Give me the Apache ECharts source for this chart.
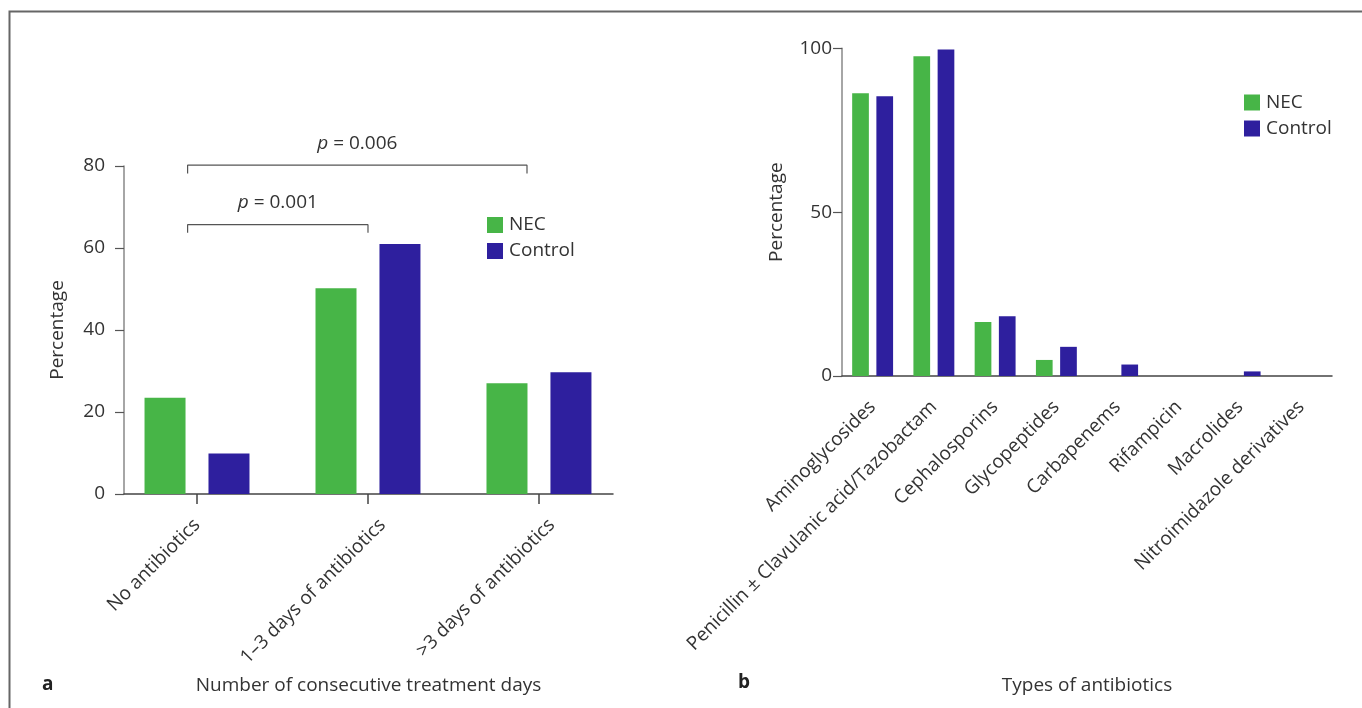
<!DOCTYPE html>
<html>
<head>
<meta charset="utf-8">
<script src="https://cdn.jsdelivr.net/npm/echarts@6/dist/echarts.min.js"></script>
<style>
html,body{margin:0;padding:0;background:#fff;}
#main{width:1362px;height:708px;}
</style>
</head>
<body>
<div id="main"></div>
<script>
// panel a
var dayCats = ['No antibiotics', '1–3 days of antibiotics', '>3 days of antibiotics'];
var necDays = [23.5, 50.2, 27.0];
var ctrlDays = [9.9, 61.0, 29.7];
// where the rotated labels sit (category index)
var dayLabelPos = [0, 1.085, 2.075];
// p-value brackets (x in category index, y in percent)
var pFrom = [-0.055, -0.055];
var pTo = [1.0, 1.93];
var pLevel = [65.7, 80.2];
var pText = ['0.001', '0.006'];

// panel b
var drugCats = ['Aminoglycosides', 'Penicillin ± Clavulanic acid/Tazobactam', 'Cephalosporins', 'Glycopeptides',
	'Carbapenems', 'Rifampicin', 'Macrolides', 'Nitroimidazole derivatives'];
var necDrug = [86.3, 97.6, 16.5, 4.9, 0, 0, 0, 0];
var ctrlDrug = [85.4, 99.6, 18.2, 8.9, 3.5, 0, 1.4, 0];

var GREEN = '#47b547';
var BLUE = '#2e1f9e';
var FONT = 'Open Sans';
var FS = 19;
var TXT = '#333';

var myChart = echarts.init(document.getElementById('main'));

function pairs(arr) {
	var out = [];
	for (var i = 0; i < arr.length; i++) {
		out.push([i, arr[i]]);
	}
	return out;
}

// bracket series built from the arrays above
var bracketSeries = [];
for (var k = 0; k < pFrom.length; k++) {
	var drop = 2;
	var mid = (pFrom[k] + pTo[k]) / 2;
	bracketSeries.push({
		type: 'line',
		xAxisIndex: 0,
		yAxisIndex: 0,
		symbol: 'circle',
		symbolSize: 1,
		showAllSymbol: true,
		clip: false,
		silent: true,
		itemStyle: { color: 'rgba(0,0,0,0)' },
		lineStyle: { color: '#555', width: 1.2 },
		data: [
			[pFrom[k], pLevel[k] - drop],
			[pFrom[k], pLevel[k]],
			{
				value: [mid, pLevel[k]],
				label: {
					show: true,
					position: 'top',
					distance: 12,
					formatter: '{i|p} = ' + pText[k],
					fontFamily: FONT,
					fontSize: FS,
					color: TXT,
					rich: { i: { fontStyle: 'italic', fontFamily: FONT, fontSize: FS, color: TXT } }
				}
			},
			[pTo[k], pLevel[k]],
			[pTo[k], pLevel[k] - drop]
		]
	});
}

var option = {
	animation: false,
	textStyle: { fontFamily: FONT },
	legend: [{
		left: 487, top: 215.5,
		padding: 0,
		orient: 'vertical',
		itemWidth: 16, itemHeight: 16, itemGap: 7,
		icon: 'rect',
		data: ['NEC', 'Control'],
		textStyle: { fontFamily: FONT, fontSize: FS, color: TXT, padding: [0, 0, 0, 1] }
	}, {
		left: 1244, top: 93,
		padding: 0,
		orient: 'vertical',
		itemWidth: 16, itemHeight: 16, itemGap: 7,
		icon: 'rect',
		data: ['NEC', 'Control'],
		textStyle: { fontFamily: FONT, fontSize: FS, color: TXT, padding: [0, 0, 0, 1] }
	}],
	grid: [
		{ left: 124, top: 166, width: 489, height: 328 },
		{ left: 842, top: 48.3, width: 490, height: 327.7 }
	],
	xAxis: [{
		gridIndex: 0,
		type: 'value',
		min: -0.427,
		max: 2.433,
		splitLine: { show: false },
		axisLine: { lineStyle: { color: '#444', width: 1.5 } },
		axisTick: { show: true, length: 10, customValues: [0, 1, 2], lineStyle: { color: '#444', width: 1.5 } },
		axisLabel: {
			customValues: dayLabelPos,
			rotate: 45,
			margin: 28,
			fontFamily: FONT, fontSize: FS, color: TXT,
			formatter: function (v) { return dayCats[Math.round(v)]; }
		},
		name: 'Number of consecutive treatment days',
		nameLocation: 'middle',
		nameGap: 182,
		nameTextStyle: { fontFamily: FONT, fontSize: FS, color: TXT }
	}, {
		gridIndex: 1,
		type: 'category',
		data: drugCats,
		axisLine: { lineStyle: { color: '#444', width: 1.5 } },
		axisTick: { length: 9, lineStyle: { color: '#444', width: 1.5 } },
		axisLabel: {
			interval: 0,
			rotate: 45,
			margin: 28,
			fontFamily: FONT, fontSize: FS, color: TXT
		},
		name: 'Types of antibiotics',
		nameLocation: 'middle',
		nameGap: 300,
		nameTextStyle: { fontFamily: FONT, fontSize: FS, color: TXT }
	}],
	yAxis: [{
		gridIndex: 0,
		type: 'value',
		min: 0, max: 80, interval: 20,
		splitLine: { show: false },
		axisLine: { show: true, onZero: false, lineStyle: { color: '#888', width: 1.5 } },
		axisTick: { show: true, length: 9, lineStyle: { color: '#555', width: 1.2 } },
		axisLabel: { margin: 19, fontFamily: FONT, fontSize: FS, color: TXT },
		name: 'Percentage',
		nameLocation: 'middle',
		nameGap: 57,
		nameTextStyle: { fontFamily: FONT, fontSize: FS, color: TXT }
	}, {
		gridIndex: 1,
		type: 'value',
		min: 0, max: 100, interval: 50,
		splitLine: { show: false },
		axisLine: { show: true, onZero: false, lineStyle: { color: '#888', width: 1.5 } },
		axisTick: { show: true, length: 9, lineStyle: { color: '#555', width: 1.2 } },
		axisLabel: { margin: 10, fontFamily: FONT, fontSize: FS, color: TXT },
		name: 'Percentage',
		nameLocation: 'middle',
		nameGap: 56,
		nameTextStyle: { fontFamily: FONT, fontSize: FS, color: TXT }
	}],
	series: [{
		name: 'NEC', type: 'bar', xAxisIndex: 0, yAxisIndex: 0,
		barWidth: 41, barGap: '56%',
		itemStyle: { color: GREEN },
		data: pairs(necDays)
	}, {
		name: 'Control', type: 'bar', xAxisIndex: 0, yAxisIndex: 0,
		barWidth: 41, barGap: '56%',
		itemStyle: { color: BLUE },
		data: pairs(ctrlDays)
	}, {
		name: 'NEC', type: 'bar', xAxisIndex: 1, yAxisIndex: 1,
		barWidth: 16.7, barGap: '45%',
		itemStyle: { color: GREEN },
		data: necDrug
	}, {
		name: 'Control', type: 'bar', xAxisIndex: 1, yAxisIndex: 1,
		barWidth: 16.7, barGap: '45%',
		itemStyle: { color: BLUE },
		data: ctrlDrug
	}].concat(bracketSeries),
	graphic: [{
		type: 'polyline',
		shape: { points: [[9.5, 708], [9.5, 11.5], [1362, 11.5]] },
		style: { stroke: '#666', lineWidth: 2, fill: null }
	}, {
		type: 'text', left: 42, top: 675,
		style: { text: 'a', font: 'bold 19px "Open Sans"', fill: '#222' }
	}, {
		type: 'text', left: 738, top: 673,
		style: { text: 'b', font: 'bold 19px "Open Sans"', fill: '#222' }
	}]
};

myChart.setOption(option);
</script>
</body>
</html>
